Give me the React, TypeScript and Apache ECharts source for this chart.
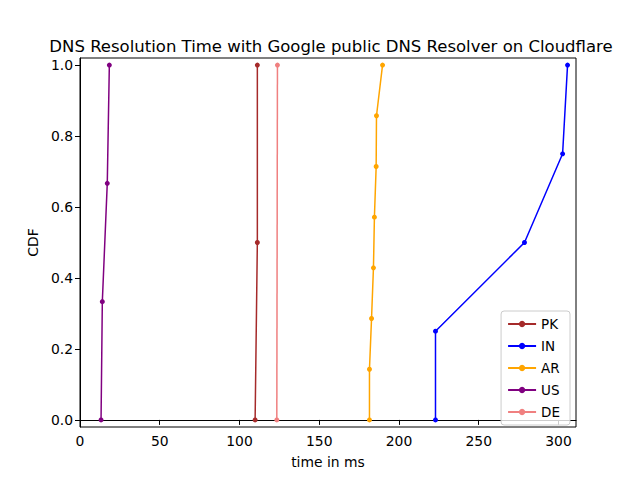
import React, { useEffect, useRef } from "react";
import * as echarts from "echarts";

const cdfPK = [0, 0.5, 1.0];
const timePK = [109.8, 111.2, 111.2];
const cdfIN = [0, 0.25, 0.5, 0.75, 1.0];
const timeIN = [222.9, 222.9, 278.7, 302.6, 305.7];
const cdfAR = [0, 1 / 7, 2 / 7, 3 / 7, 4 / 7, 5 / 7, 6 / 7, 1.0];
const timeAR = [181.5, 181.5, 182.8, 184.0, 184.6, 185.7, 185.9, 189.7];
const cdfUS = [0, 1 / 3, 2 / 3, 1.0];
const timeUS = [13.2, 14.0, 17.1, 18.4];
const cdfDE = [0, 1.0];
const timeDE = [123.4, 123.8];

const seriesNames = ["PK", "IN", "AR", "US", "DE"];
const seriesColors = ["#a52a2a", "#0000ff", "#ffa500", "#800080", "#f08080"];
const xTicks = [0, 50, 100, 150, 200, 250, 300];
const yTicks = [0, 0.2, 0.4, 0.6, 0.8, 1.0];

const FONT = "DejaVu Sans";

export default function App() {
  const ref = useRef<HTMLDivElement>(null);
  useEffect(() => {
    if (!ref.current) return;
    const chart = echarts.init(ref.current, null, { renderer: "svg" });
    const times = [timePK, timeIN, timeAR, timeUS, timeDE];
    const cdfs = [cdfPK, cdfIN, cdfAR, cdfUS, cdfDE];
    chart.setOption({
      animation: false,
      backgroundColor: "#ffffff",
      textStyle: { fontFamily: FONT },
      title: {
        text: "DNS Resolution Time with Google public DNS Resolver on Cloudflare",
        left: 326,
        textAlign: "center",
        top: 33,
        textStyle: { fontFamily: FONT, fontSize: 16.5, fontWeight: "normal", color: "#000" },
      },
      grid: {
        left: 80,
        right: 64,
        top: 58,
        bottom: 53,
        show: true,
        borderColor: "#000",
        borderWidth: 1,
        backgroundColor: "transparent",
      },
      legend: {
        orient: "vertical",
        right: 70,
        top: 311,
        itemWidth: 28,
        itemHeight: 8,
        itemGap: 8,
        padding: [6, 10, 6, 6],
        borderColor: "#cccccc",
        borderWidth: 1,
        borderRadius: 3,
        backgroundColor: "rgba(255,255,255,0.8)",
        textStyle: { fontFamily: FONT, fontSize: 13.5, color: "#000" },
        data: seriesNames,
      },
      xAxis: {
        type: "value",
        min: 0,
        max: 311,
        name: "time in ms",
        nameLocation: "middle",
        nameGap: 28,
        nameTextStyle: { fontFamily: FONT, fontSize: 13.9, color: "#000" },
        axisLine: { show: true, lineStyle: { color: "#000" } },
        axisTick: { show: true, inside: false, length: 5, lineStyle: { color: "#000" }, customValues: xTicks },
        axisLabel: { fontFamily: FONT, fontSize: 13.9, color: "#000", margin: 7, customValues: xTicks },
        splitLine: { show: false },
      },
      yAxis: {
        type: "value",
        min: -0.02,
        max: 1.02,
        name: "CDF",
        nameLocation: "middle",
        nameGap: 38,
        nameRotate: 90,
        nameTextStyle: { fontFamily: FONT, fontSize: 13.9, color: "#000" },
        axisLine: { show: true, lineStyle: { color: "#000" } },
        axisTick: { show: true, inside: false, length: 5, lineStyle: { color: "#000" }, customValues: yTicks },
        axisLabel: {
          fontFamily: FONT,
          fontSize: 13.9,
          color: "#000",
          margin: 7,
          customValues: yTicks,
          formatter: (v: number) => v.toFixed(1),
        },
        splitLine: { show: false },
      },
      series: seriesNames.map((name, i) => ({
        name,
        type: "line",
        data: times[i].map((t, j) => [t, cdfs[i][j]]),
        symbol: "circle",
        symbolSize: 5,
        showSymbol: true,
        color: seriesColors[i],
        lineStyle: { width: 1.5, color: seriesColors[i] },
        itemStyle: { color: seriesColors[i] },
        emphasis: { disabled: true },
      })),
    });
    return () => chart.dispose();
  }, []);
  return <div ref={ref} style={{ width: 640, height: 480, position: "absolute", left: 0, top: 0 }} />;
}
